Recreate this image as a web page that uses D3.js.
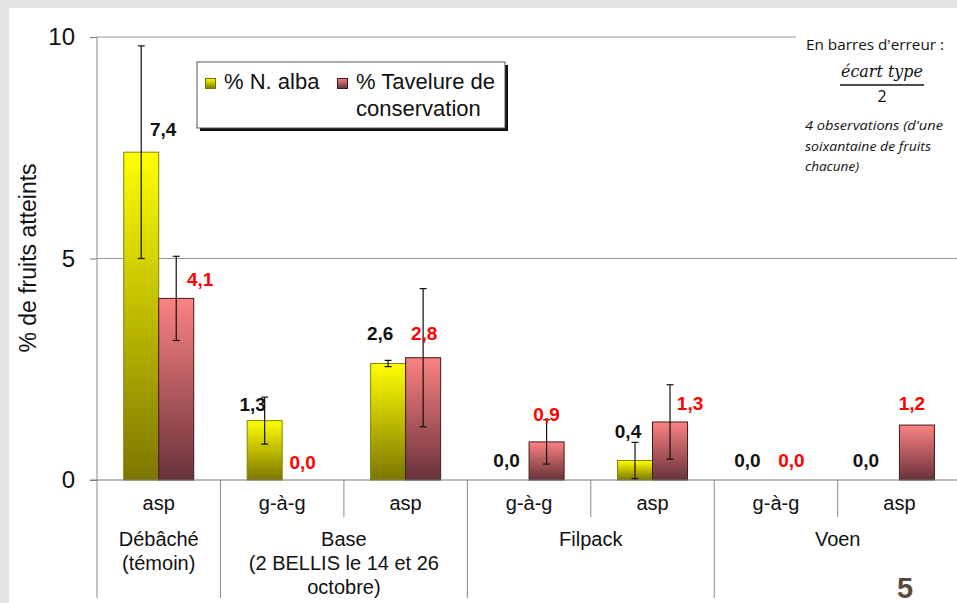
<!DOCTYPE html>
<html><head><meta charset="utf-8">
<script src="https://cdn.jsdelivr.net/npm/d3@7"></script>
<style>
html,body{margin:0;padding:0;background:#e3e3e3;}
svg{display:block;}
</style></head>
<body>
<svg id="chart" width="957" height="603"></svg>
<script>
// ---- data ----
const categories = ["asp","g-à-g","asp","g-à-g","asp","g-à-g","asp"];
const groupLabels = [["Débâché","(témoin)"],["Base","(2 BELLIS le 14 et 26","octobre)"],["Filpack"],["Voen"]];
const groupSpans = [1,2,2,2];
const seriesNames = ["% N. alba","% Tavelure de conservation"];
const nAlba = [7.4,1.34,2.63,0.0,0.44,0.0,0.0];
const nAlbaErr = [2.4,0.53,0.07,null,0.41,null,null];
const tavelure = [4.1,0.0,2.76,0.86,1.31,0.0,1.24];
const tavelureErr = [0.95,null,1.56,0.5,0.84,null,null];
const yTicks = [0,5,10];
const noteLines = ["4 observations  (d'une","soixantaine de fruits","chacune)"];

// label nudges (px) relative to bar centre / bar top
const nudgeN = [[22,-23],[-12,-16],[-8,-30],[-5,-20],[-7,-29],[-11,-20],[-16,-20]];
const nudgeT = [[24,-19],[3,-18],[1,-25],[0,-28],[20,-19],[-2,-20],[-5,-22]];

const svg = d3.select("#chart");
const W = 957, H = 603;
// white panel
svg.append("rect").attr("x",9).attr("y",8).attr("width",W).attr("height",H).attr("fill","#fff");

const defs = svg.append("defs");
const gy = defs.append("linearGradient").attr("id","gY").attr("x1",0).attr("y1",0).attr("x2",0).attr("y2",1);
gy.append("stop").attr("offset","0%").attr("stop-color","#ffff00");
gy.append("stop").attr("offset","100%").attr("stop-color","#7c7600");
const gr = defs.append("linearGradient").attr("id","gR").attr("x1",0).attr("y1",0).attr("x2",0).attr("y2",1);
gr.append("stop").attr("offset","0%").attr("stop-color","#fb8282");
gr.append("stop").attr("offset","100%").attr("stop-color","#68323a");

const x0 = 97, x1 = 97 + 123.45*7;
const yTop = 37, yBot = 480;
const x = d3.scaleBand().domain(d3.range(categories.length)).range([x0,x1]).paddingInner(0).paddingOuter(0);
const xs = d3.scaleBand().domain([0,1]).range([0,x.bandwidth()]).paddingInner(0).paddingOuter(0.763);
const y = d3.scaleLinear().domain([0,10]).range([yBot,yTop]);

const font = "'Liberation Sans', Arial, sans-serif";

// gridlines
svg.append("line").attr("x1",x0).attr("x2",796).attr("y1",y(10)).attr("y2",y(10)).attr("stroke","#9a9a9a").attr("stroke-width",1);
svg.append("line").attr("x1",x0).attr("x2",W).attr("y1",y(5)).attr("y2",y(5)).attr("stroke","#9a9a9a").attr("stroke-width",1);

// y axis
const yAxis = d3.axisLeft(y).tickValues(yTicks).tickSize(7).tickPadding(15).tickFormat(d3.format("d"));
const ya = svg.append("g").attr("transform",`translate(${x0},0)`).call(yAxis);
ya.select(".domain").remove();
ya.selectAll(".tick line").attr("stroke","#7a7a7a");
ya.selectAll(".tick text").attr("font-family",font).attr("font-size",24).attr("fill","#111");
svg.append("line").attr("x1",x0).attr("x2",x0).attr("y1",yTop).attr("y2",598).attr("stroke","#8a8a8a");

// bars
const series = [
  {vals:nAlba, err:nAlbaErr, fill:"url(#gY)", stroke:"#8a8200", lab:"#111", nudge:nudgeN},
  {vals:tavelure, err:tavelureErr, fill:"url(#gR)", stroke:"#3e1c1e", lab:"#ff0000", nudge:nudgeT}
];
series.forEach((s,si)=>{
  const g = svg.append("g");
  g.selectAll("rect").data(s.vals).join("rect")
    .attr("x",(d,i)=>x(i)+xs(si))
    .attr("y",d=>y(d))
    .attr("width",xs.bandwidth())
    .attr("height",d=>yBot-y(d))
    .attr("fill",s.fill)
    .attr("stroke",d=>d>0?s.stroke:"none").attr("stroke-width",1);
});

// x axis line
svg.append("line").attr("x1",x0-7).attr("x2",W).attr("y1",yBot).attr("y2",yBot).attr("stroke","#7a7a7a");

// error bars
series.forEach((s,si)=>{
  s.vals.forEach((v,i)=>{
    const e = s.err[i];
    if(e==null) return;
    const cx = x(i)+xs(si)+xs.bandwidth()/2;
    const lo = Math.max(0,v-e), hi = v+e;
    const g = svg.append("g").attr("stroke","#111").attr("stroke-width",1.2);
    g.append("line").attr("x1",cx).attr("x2",cx).attr("y1",y(hi)).attr("y2",y(lo));
    g.append("line").attr("x1",cx-3.5).attr("x2",cx+3.5).attr("y1",y(hi)).attr("y2",y(hi));
    if(v-e>0) g.append("line").attr("x1",cx-3.5).attr("x2",cx+3.5).attr("y1",y(lo)).attr("y2",y(lo));
  });
});

// value labels
const fmt = v => v.toFixed(1).replace(".",",");
series.forEach((s,si)=>{
  s.vals.forEach((v,i)=>{
    const cx = x(i)+xs(si)+xs.bandwidth()/2;
    svg.append("text").attr("x",cx+s.nudge[i][0]).attr("y",y(v)+s.nudge[i][1]).attr("dy","0.36em")
      .attr("text-anchor","middle").attr("font-family",font).attr("font-weight","bold").attr("font-size",19)
      .attr("fill",s.lab).text(fmt(v));
  });
});

// category separators & labels
const boundaries = d3.range(categories.length+1).map(i=> i<categories.length? x(i) : x1);
const groupStarts = [0];
groupSpans.forEach((s,i)=>groupStarts.push(groupStarts[i]+s));
boundaries.forEach((bx,i)=>{
  if(i===0||i===categories.length) return;
  const long = groupStarts.includes(i);
  svg.append("line").attr("x1",bx).attr("x2",bx).attr("y1",yBot).attr("y2",long?598:517).attr("stroke","#8a8a8a");
});
categories.forEach((c,i)=>{
  svg.append("text").attr("x",x(i)+x.bandwidth()/2).attr("y",510).attr("text-anchor","middle")
    .attr("font-family",font).attr("font-size",20).attr("fill","#111").text(c);
});
groupLabels.forEach((lines,gi)=>{
  const a = groupStarts[gi], b = groupStarts[gi+1];
  const cx = (x(a) + (b<categories.length? x(b): x1))/2;
  lines.forEach((t,li)=>{
    svg.append("text").attr("x",cx).attr("y",546+li*24).attr("text-anchor","middle")
      .attr("font-family",font).attr("font-size",20).attr("fill","#111").text(t);
  });
});

// y title
svg.append("text").attr("transform","translate(36,258) rotate(-90)").attr("text-anchor","middle")
  .attr("font-family",font).attr("font-size",23).attr("fill","#111").text("% de fruits atteints");

// legend
const lg = svg.append("g");
lg.append("rect").attr("x",200).attr("y",65).attr("width",308).attr("height",66).attr("fill","#111");
lg.append("rect").attr("x",197).attr("y",62).attr("width",308).attr("height",66).attr("fill","#fff").attr("stroke","#555").attr("stroke-width",1);
lg.append("rect").attr("x",205.5).attr("y",78.5).attr("width",10).attr("height",10).attr("fill","url(#gY)").attr("stroke","#7a7200");
lg.append("text").attr("x",224).attr("y",89).attr("font-family",font).attr("font-size",22).attr("fill","#111").text(seriesNames[0]);
lg.append("rect").attr("x",337.5).attr("y",78.5).attr("width",10).attr("height",10).attr("fill","url(#gR)").attr("stroke","#3e1c1e");
const tw = seriesNames[1].split(" ");
lg.append("text").attr("x",356).attr("y",89).attr("font-family",font).attr("font-size",22).attr("fill","#111").text(tw.slice(0,3).join(" "));
lg.append("text").attr("x",356).attr("y",116).attr("font-family",font).attr("font-size",22).attr("fill","#111").text(tw.slice(3).join(" "));

// annotation
const nf = "'Open Sans', 'Noto Sans', sans-serif";
svg.append("text").attr("x",806).attr("y",50).attr("font-family",nf).attr("font-size",14).attr("fill","#111")
  .attr("textLength",138).attr("lengthAdjust","spacingAndGlyphs").text("En barres d'erreur :");
svg.append("text").attr("x",882).attr("y",77).attr("text-anchor","middle").attr("font-family","'DejaVu Serif', serif")
  .attr("font-style","italic").attr("font-size",16).attr("fill","#111").attr("textLength",82).attr("lengthAdjust","spacingAndGlyphs").text("écart type");
svg.append("line").attr("x1",840).attr("x2",924).attr("y1",85).attr("y2",85).attr("stroke","#111").attr("stroke-width",1.5);
svg.append("text").attr("x",882).attr("y",102).attr("text-anchor","middle").attr("font-family",nf)
  .attr("font-size",16).attr("fill","#111").text("2");
const nl = [138,126,54];
noteLines.forEach((t,i)=>{
  svg.append("text").attr("x",805).attr("y",130+i*20.5).attr("font-family",nf).attr("font-style","italic")
    .attr("font-size",13).attr("fill","#111").attr("textLength",nl[i]).attr("lengthAdjust","spacingAndGlyphs").text(t);
});

// page number
svg.append("text").attr("x",905).attr("y",598).attr("text-anchor","middle").attr("font-family",font)
  .attr("font-weight","bold").attr("font-size",29).attr("fill","#594b3b").text("5");
</script>
</body></html>
